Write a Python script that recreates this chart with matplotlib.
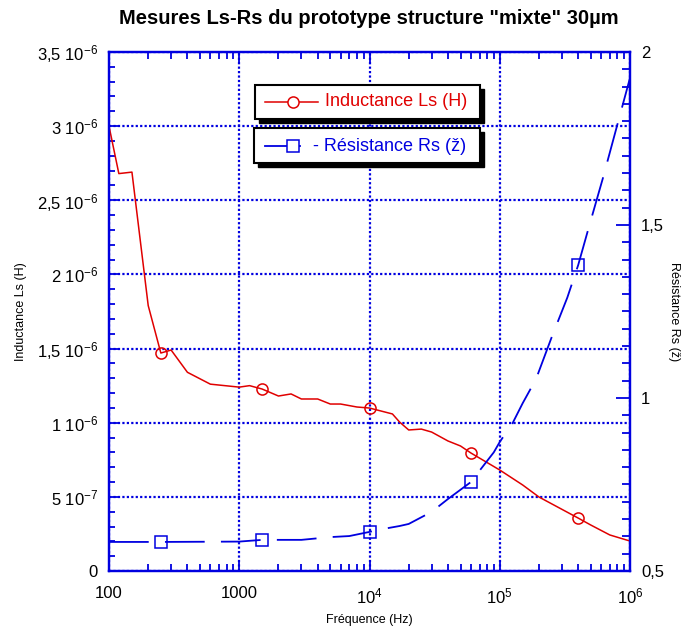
import matplotlib
matplotlib.use("Agg")
import matplotlib.pyplot as plt
import numpy as np
from matplotlib.patches import Rectangle
from matplotlib.lines import Line2D
from matplotlib.ticker import FixedLocator, MultipleLocator, LogLocator, NullFormatter

plt.rcParams['font.family'] = ['Liberation Sans', 'DejaVu Sans']
plt.rcParams['mathtext.fontset'] = 'custom'
plt.rcParams['mathtext.rm'] = 'Liberation Sans'
plt.rcParams['mathtext.it'] = 'Liberation Sans'

# Inductance Ls (H) vs frequency
freq_L = [100, 119, 150, 200, 250, 300, 400, 600, 1000, 1200, 1500, 2000, 2500, 3000,
          4000, 5000, 6000, 8000, 1e4, 1.5e4, 1.7e4, 2e4, 2.5e4, 3e4, 4e4, 5e4, 6e4,
          1e5, 1.5e5, 2e5, 4e5, 5e5, 7e5, 1e6]
Ls = [3.00, 2.68, 2.69, 1.79, 1.47, 1.49, 1.34, 1.26, 1.24, 1.25, 1.227, 1.18, 1.194, 1.16,
      1.16, 1.126, 1.126, 1.106, 1.099, 1.059, 1.005, 0.951, 0.957, 0.937, 0.877, 0.843, 0.796,
      0.681, 0.580, 0.499, 0.357, 0.310, 0.243, 0.202]
Ls = [v * 1e-6 for v in Ls]

# Resistance Rs vs frequency
freq_R = [100, 250, 1000, 1500, 3000, 5000, 7000, 1e4, 1.25e4, 1.7e4, 2e4, 3e4, 4e4, 6e4,
          7e4, 9e4, 1e5, 1.25e5, 1.5e5, 1.9e5, 2.5e5, 3.3e5, 4e5, 4.8e5, 6.2e5, 7.8e5, 1e6]
Rs = [0.584, 0.584, 0.585, 0.590, 0.590, 0.598, 0.601, 0.613, 0.621, 0.630, 0.636, 0.671,
      0.708, 0.757, 0.790, 0.843, 0.873, 0.926, 0.985, 1.055, 1.175, 1.290, 1.384, 1.490,
      1.636, 1.775, 1.925]

marker_freqs = [250, 1500, 1e4, 6e4, 4e5]

left_ticks = [0, 0.5e-6, 1e-6, 1.5e-6, 2e-6, 2.5e-6, 3e-6, 3.5e-6]
left_labels = ['0', r'5 10$^{-7}$', r'1 10$^{-6}$', r'1,5 10$^{-6}$', r'2 10$^{-6}$',
               r'2,5 10$^{-6}$', r'3 10$^{-6}$', r'3,5 10$^{-6}$']
right_ticks = [0.5, 1, 1.5, 2]
right_labels = ['0,5', '1', '1,5', '2']
x_ticks = [100, 1000, 1e4, 1e5, 1e6]
x_labels = ['100', '1000', r'10$^4$', r'10$^5$', r'10$^6$']

W, H = 685, 628
fig = plt.figure(figsize=(W / 100, H / 100), dpi=100)
ax = fig.add_axes([109 / W, 1 - 571 / H, 521 / W, 519 / H])
ax2 = ax.twinx()

blue = '#0000e0'
red = '#e00000'

ax.set_xscale('log')
ax.set_xlim(100, 1e6)
ax.set_ylim(0, 3.5e-6)
ax2.set_ylim(0.5, 2)

# lines
idx_L = [i for i, f in enumerate(freq_L) if f in marker_freqs]
idx_R = [i for i, f in enumerate(freq_R) if f in marker_freqs]
ax.plot(freq_L, Ls, color=red, lw=1.1, marker='o', markersize=8, mfc='none',
        mec=red, mew=1.1, markevery=idx_L, zorder=3)
ax2.plot(freq_R, Rs, color=blue, lw=1.3, dashes=(22, 9), marker='s', markersize=8.5,
         mfc='none', mec=blue, mew=1.1, markevery=idx_R, zorder=3)

# grid
ax.grid(True, which='major', color=blue, linestyle=(0, (1, 1)), lw=1.6)
ax.xaxis.set_major_locator(FixedLocator(x_ticks))
ax.set_xticklabels(x_labels)
ax.xaxis.set_minor_locator(LogLocator(base=10, subs=np.arange(2, 10)))
ax.xaxis.set_minor_formatter(NullFormatter())
ax.yaxis.set_major_locator(FixedLocator(left_ticks))
ax.set_yticklabels(left_labels)
ax.yaxis.set_minor_locator(MultipleLocator(0.1e-6))
ax2.yaxis.set_major_locator(FixedLocator(right_ticks))
ax2.set_yticklabels(right_labels)
ax2.yaxis.set_minor_locator(MultipleLocator(0.05))

ax.tick_params(axis='x', which='both', direction='in', top=True, colors=blue,
               labelcolor='black', labelsize=12, pad=11, width=1.3)
ax.tick_params(axis='x', which='major', length=8)
ax.tick_params(axis='x', which='minor', length=5)
ax.tick_params(axis='y', which='both', direction='in', colors=blue,
               labelcolor='black', labelsize=12, pad=8, width=1.3)
ax.tick_params(axis='y', which='major', length=8)
ax.tick_params(axis='y', which='minor', length=4)
ax2.tick_params(axis='y', which='both', direction='in', colors=blue,
                labelcolor='black', labelsize=12, pad=8, width=1.3)
ax2.tick_params(axis='y', which='major', length=10)
ax2.tick_params(axis='y', which='minor', length=6)

for a in (ax, ax2):
    for s in a.spines.values():
        s.set_color(blue)
        s.set_linewidth(1.6)

ax.set_xlabel('Fréquence (Hz)', fontsize=9)
ax.xaxis.set_label_coords(0.5, -0.082)
ax.set_ylabel('Inductance Ls (H)', fontsize=9)
ax.yaxis.set_label_coords(-0.158, 0.5)
ax2.set_ylabel('Résistance Rs (ž)', fontsize=9, rotation=-90, va='center')
ax2.yaxis.set_label_coords(1.085, 0.5)

fig.text(369 / W, 1 - 18 / H, 'Mesures Ls-Rs du prototype structure "mixte" 30µm',
         ha='center', va='center', fontsize=14.5, fontweight='bold')


# legend boxes with black drop shadow (pixel coords from top-left)
def fx(x):
    return x / W


def fy(y):
    return 1 - y / H


def box(x0, y0, x1, y1):
    fig.add_artist(Rectangle((fx(x0 + 4), fy(y1 + 4)), fx(x1 - x0), (y1 - y0) / H,
                             transform=fig.transFigure, facecolor='black',
                             edgecolor='black', zorder=10))
    fig.add_artist(Rectangle((fx(x0), fy(y1)), fx(x1 - x0), (y1 - y0) / H,
                             transform=fig.transFigure, facecolor='white',
                             edgecolor='black', lw=1.5, zorder=11))


box(255, 85, 480, 119)
fig.add_artist(Line2D([fx(265), fx(318)], [fy(102), fy(102)], transform=fig.transFigure,
                      color=red, lw=1.1, zorder=12))
fig.add_artist(Line2D([fx(293)], [fy(102)], transform=fig.transFigure, marker='o',
                      markersize=8, mfc='white', mec=red, mew=1.1, zorder=13))
fig.text(fx(325), fy(102), 'Inductance Ls (H)', color=red, fontsize=13,
         va='center', ha='left', zorder=13)

box(254, 128, 480, 163)
fig.add_artist(Line2D([fx(265), fx(300)], [fy(146), fy(146)], transform=fig.transFigure,
                      color=blue, lw=1.3, zorder=12))
fig.add_artist(Line2D([fx(293)], [fy(146)], transform=fig.transFigure, marker='s',
                      markersize=8.5, mfc='white', mec=blue, mew=1.1, zorder=13))
fig.text(fx(313), fy(146), '- Résistance Rs (ž)', color=blue, fontsize=13,
         va='center', ha='left', zorder=13)

plt.savefig('out.png', dpi=100)
plt.close()
